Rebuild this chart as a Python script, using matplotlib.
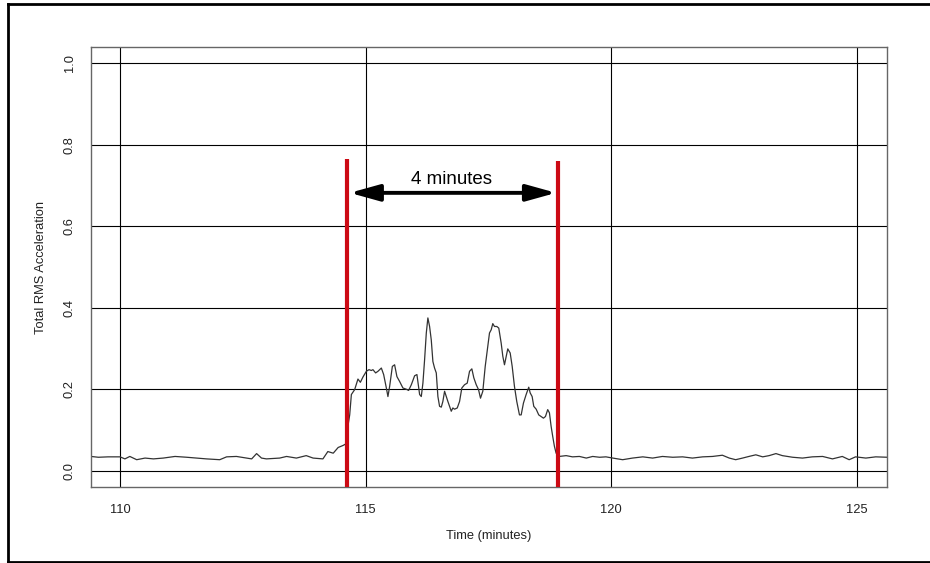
import matplotlib
matplotlib.use("Agg")
import matplotlib.pyplot as plt
from matplotlib.lines import Line2D
from matplotlib.patches import FancyArrowPatch
import numpy as np

plt.rcParams['font.family'] = ['Liberation Sans', 'DejaVu Sans']

# --- data -------------------------------------------------------------
t_pre = [109.41, 109.56, 109.76, 110.00, 110.10, 110.20, 110.34, 110.51, 110.68,
         110.88, 111.12, 111.36, 111.56, 111.76, 112.03, 112.17, 112.37, 112.58,
         112.68, 112.78, 112.88, 112.98, 113.25, 113.39, 113.59, 113.79, 113.93,
         114.13, 114.23, 114.34, 114.44, 114.54, 114.60]
v_pre = [0.035, 0.033, 0.034, 0.034, 0.029, 0.035, 0.027, 0.031, 0.029,
         0.031, 0.035, 0.033, 0.031, 0.029, 0.027, 0.034, 0.035, 0.031,
         0.029, 0.042, 0.031, 0.029, 0.031, 0.035, 0.031, 0.037, 0.031,
         0.029, 0.047, 0.043, 0.057, 0.062, 0.066]

t_event = [114.64, 114.675, 114.709, 114.776, 114.843, 114.892, 114.945, 115.014,
           115.067, 115.116, 115.148, 115.203, 115.250, 115.319, 115.366, 115.421,
           115.453, 115.488, 115.543, 115.589, 115.636, 115.691, 115.758, 115.827,
           115.874, 115.929, 115.996, 116.043, 116.098, 116.132, 116.165, 116.199,
           116.234, 116.266, 116.301, 116.335, 116.368, 116.402, 116.437, 116.470,
           116.504, 116.539, 116.571, 116.606, 116.640, 116.673, 116.707, 116.742,
           116.774, 116.809, 116.864, 116.911, 116.957, 117.012, 117.067, 117.114,
           117.161, 117.201, 117.250, 117.297, 117.337, 117.384, 117.433, 117.486,
           117.520, 117.555, 117.587, 117.622, 117.669, 117.709, 117.758, 117.791,
           117.825, 117.860, 117.892, 117.941, 117.982, 118.028, 118.075, 118.130,
           118.165, 118.211, 118.266, 118.319, 118.348, 118.388, 118.421, 118.470,
           118.522, 118.571, 118.618, 118.659, 118.705, 118.740, 118.774, 118.807,
           118.841, 118.876, 118.909]
v_event = [0.110, 0.137, 0.187, 0.199, 0.225, 0.217, 0.230, 0.244,
           0.248, 0.246, 0.248, 0.240, 0.244, 0.252, 0.236, 0.203,
           0.182, 0.207, 0.256, 0.260, 0.231, 0.219, 0.203, 0.200,
           0.197, 0.211, 0.233, 0.236, 0.187, 0.182, 0.215, 0.272,
           0.338, 0.375, 0.354, 0.321, 0.268, 0.252, 0.240, 0.182,
           0.158, 0.156, 0.170, 0.195, 0.182, 0.170, 0.158, 0.146,
           0.154, 0.151, 0.154, 0.170, 0.203, 0.211, 0.215, 0.244,
           0.250, 0.228, 0.211, 0.199, 0.178, 0.195, 0.256, 0.305,
           0.338, 0.346, 0.361, 0.354, 0.354, 0.350, 0.313, 0.281,
           0.260, 0.281, 0.299, 0.289, 0.256, 0.207, 0.170, 0.137,
           0.137, 0.166, 0.187, 0.205, 0.191, 0.182, 0.158, 0.151,
           0.137, 0.133, 0.129, 0.133, 0.150, 0.142, 0.109, 0.084,
           0.060, 0.043, 0.039]

t_post = [118.94, 119.08, 119.21, 119.35, 119.49, 119.62, 119.76, 119.89, 120.03,
          120.23, 120.43, 120.64, 120.84, 121.04, 121.25, 121.45, 121.65, 121.86,
          122.06, 122.26, 122.40, 122.53, 122.67, 122.80, 122.94, 123.08, 123.21,
          123.35, 123.48, 123.69, 123.89, 124.09, 124.30, 124.50, 124.70, 124.84,
          124.97, 125.18, 125.38, 125.62]
v_post = [0.035, 0.037, 0.034, 0.035, 0.031, 0.035, 0.033, 0.034, 0.031,
          0.027, 0.031, 0.034, 0.031, 0.035, 0.033, 0.034, 0.031, 0.034,
          0.035, 0.038, 0.031, 0.027, 0.031, 0.035, 0.039, 0.034, 0.037,
          0.042, 0.037, 0.033, 0.031, 0.034, 0.035, 0.029, 0.035, 0.027,
          0.034, 0.031, 0.034, 0.033]

marker_times = [114.624, 118.909]
marker_tops = [0.766, 0.761]
arrow_span = (114.675, 118.876)
arrow_y = 0.682
annotation = "4 minutes"

x_ticks = [110, 115, 120, 125]
y_ticks = [0.0, 0.2, 0.4, 0.6, 0.8, 1.0]

# --- figure -----------------------------------------------------------
fig = plt.figure(figsize=(9.30, 5.63), dpi=100)
W, H = 930, 563
ax = fig.add_axes([91 / W, 1 - 487 / H, (887 - 91) / W, (487 - 47) / H])

t = t_pre + t_event + t_post
v = v_pre + v_event + v_post

for xt in x_ticks:
    ax.axvline(xt, color='black', lw=0.8, zorder=1)
for yt in y_ticks:
    ax.axhline(yt, color='black', lw=0.8, zorder=1)

ax.plot(t, v, color='#333333', lw=0.9, zorder=2)

for mt, top in zip(marker_times, marker_tops):
    ax.plot([mt, mt], [-0.04, top], color='#cc0a14', lw=3.0,
            solid_capstyle='butt', zorder=3, clip_on=False)

arr = FancyArrowPatch((arrow_span[0], arrow_y), (arrow_span[1], arrow_y),
                      arrowstyle='<|-|>,head_length=18,head_width=5',
                      mutation_scale=1, color='black', lw=2.8,
                      shrinkA=0, shrinkB=0, zorder=4)
ax.add_patch(arr)
ax.text(sum(arrow_span) / 2 - 0.02, 0.716, annotation, ha='center', va='center',
        fontsize=13.5, color='black', zorder=5)

ax.set_xlim(109.41, 125.61)
ax.set_ylim(-0.04, 1.04)
ax.set_xticks(x_ticks)
ax.set_yticks(y_ticks)
ax.set_xticklabels([str(x) for x in x_ticks])
ax.set_yticklabels([f"{y:.1f}" for y in y_ticks], rotation=90, va='center')
ax.tick_params(axis='x', length=0, pad=12, labelsize=9.3, colors='#222222')
ax.tick_params(axis='y', length=0, pad=11, labelsize=9.3, colors='#222222')
for sp in ax.spines.values():
    sp.set_color('#666666')
    sp.set_linewidth(1.0)

ax.set_xlabel("Time (minutes)", fontsize=9.3, labelpad=10, color='#222222')
ax.set_ylabel("Total RMS Acceleration", fontsize=9.3, labelpad=12, color='#222222')

# outer frame (right edge cropped)
def px(x, y):
    return (x / W, 1 - y / H)

for (x0, y0), (x1, y1) in [((8, 4), (930, 4)), ((8, 4), (8, 562)), ((8, 562), (930, 562))]:
    a, b = px(x0, y0), px(x1, y1)
    fig.add_artist(Line2D([a[0], b[0]], [a[1], b[1]], color='black', lw=2.0,
                          transform=fig.transFigure))

fig.savefig("out.png", dpi=100)
